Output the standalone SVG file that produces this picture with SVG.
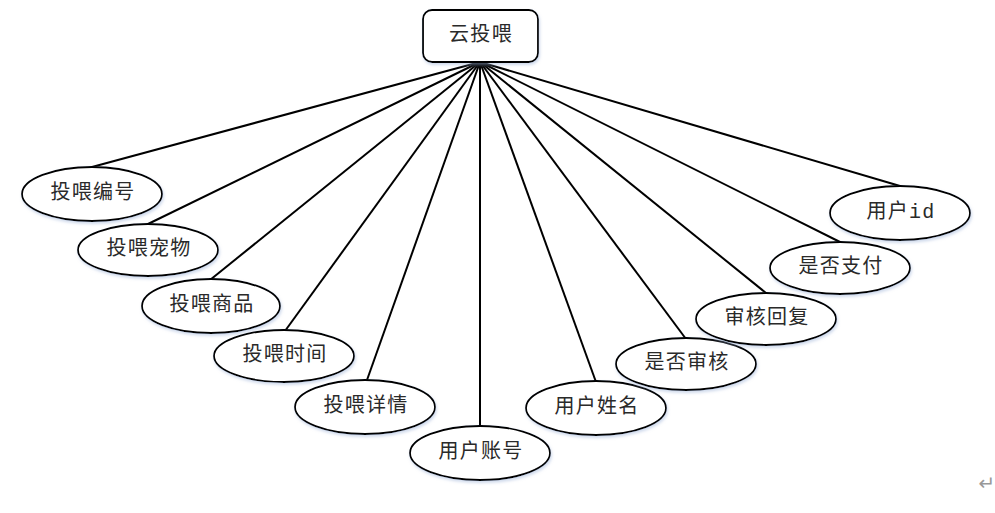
<svg xmlns="http://www.w3.org/2000/svg" width="995" height="513" viewBox="0 0 995 513">
<style>
.n ellipse,.n rect{fill:#fff;stroke:#000;stroke-width:1.8;filter:url(#sh)}
.n text{font-family:"Liberation Mono","Noto Sans CJK SC",monospace;font-size:20px;letter-spacing:1.3px;fill:#2a2a2a;text-anchor:middle;dominant-baseline:central}
.c line{stroke:#000;stroke-width:2}
</style>
<defs>
<filter id="sh" x="-20%" y="-30%" width="140%" height="160%">
<feDropShadow dx="1" dy="2" stdDeviation="1.5" flood-color="#9fb4d8" flood-opacity="0.5"/>
</filter>
</defs>
<rect width="995" height="513" fill="#fff"/>
<g class="c">
<line x1="480" y1="62" x2="92" y2="167"/>
<line x1="480" y1="62" x2="148" y2="224"/>
<line x1="480" y1="62" x2="210" y2="280"/>
<line x1="480" y1="62" x2="285" y2="331"/>
<line x1="480" y1="62" x2="367" y2="380"/>
<line x1="480" y1="62" x2="480" y2="427"/>
<line x1="480" y1="62" x2="596" y2="382"/>
<line x1="480" y1="62" x2="686" y2="339"/>
<line x1="480" y1="62" x2="766" y2="293"/>
<line x1="480" y1="62" x2="840" y2="242"/>
<line x1="480" y1="62" x2="900" y2="186"/>
</g>
<g id="root" class="n"><rect x="423" y="10" width="115" height="52" rx="9"/><text x="481" y="35">云投喂</text></g>
<g id="n1" class="n"><ellipse cx="92" cy="194" rx="70" ry="27"/><text x="93" y="193">投喂编号</text></g>
<g id="n2" class="n"><ellipse cx="148" cy="250" rx="70" ry="26"/><text x="149" y="249">投喂宠物</text></g>
<g id="n3" class="n"><ellipse cx="211" cy="306" rx="69" ry="27"/><text x="212" y="305">投喂商品</text></g>
<g id="n4" class="n"><ellipse cx="284" cy="356" rx="70" ry="26"/><text x="285" y="355">投喂时间</text></g>
<g id="n5" class="n"><ellipse cx="365" cy="407" rx="70" ry="27"/><text x="366" y="406">投喂详情</text></g>
<g id="n6" class="n"><ellipse cx="480" cy="453" rx="70" ry="27"/><text x="481" y="452">用户账号</text></g>
<g id="n7" class="n"><ellipse cx="596" cy="408" rx="70" ry="27"/><text x="597" y="407">用户姓名</text></g>
<g id="n8" class="n"><ellipse cx="686" cy="364" rx="70" ry="26"/><text x="687" y="363">是否审核</text></g>
<g id="n9" class="n"><ellipse cx="766" cy="319" rx="70" ry="26"/><text x="767" y="318">审核回复</text></g>
<g id="n10" class="n"><ellipse cx="840" cy="268" rx="70" ry="26"/><text x="841" y="267">是否支付</text></g>
<g id="n11" class="n"><ellipse cx="900" cy="213" rx="70" ry="27"/><text x="901" y="212">用户id</text></g>
<text x="987" y="490" font-family="DejaVu Sans,sans-serif" font-size="20" fill="#999" text-anchor="middle">↵</text>
</svg>
